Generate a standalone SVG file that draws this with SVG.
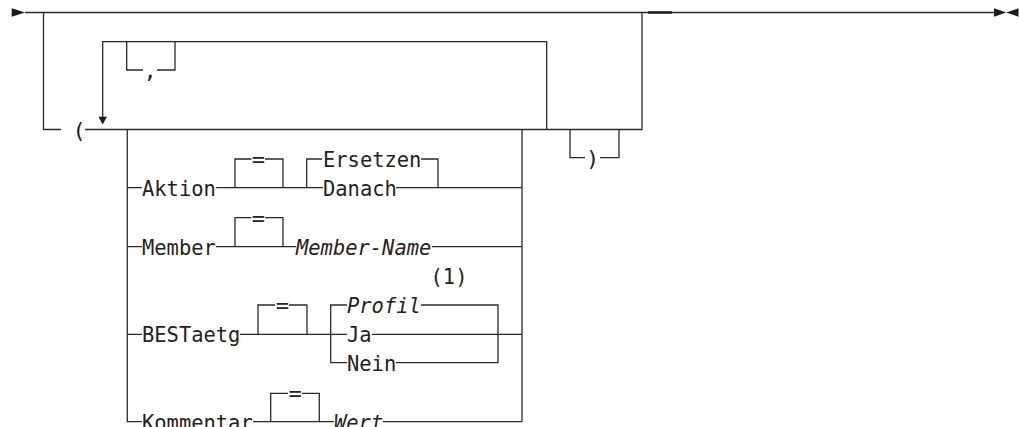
<svg xmlns="http://www.w3.org/2000/svg" width="1019" height="427" viewBox="0 0 1019 427">
<style>
.ln{fill:none;stroke:#2a2a2a;stroke-width:1.3;stroke-linecap:butt;stroke-linejoin:miter}
.ar{fill:#1a1a1a;stroke:none}
.t{font-family:"DejaVu Sans Mono","Liberation Mono",monospace;font-size:22px;fill:#222}
.i{font-style:italic}
.m{text-anchor:middle}
</style>
<rect width="1019" height="427" fill="#fff"/>
<g id="connectors">
<!-- start arrow & main line -->
<polygon class="ar" points="11.7,8.3 25,12.5 11.7,16.7"/>
<path class="ln" d="M25,12.5H994"/>
<path d="M648,12.5H672" stroke="#1a1a1a" stroke-width="2.4"/>
<polygon class="ar" points="994,8.2 1006.3,12.5 994,16.8"/>
<polygon class="ar" points="1018.5,8.2 1006.3,12.5 1018.5,16.8"/>
<!-- optional group bypass -->
<path class="ln" d="M43.5,12.5V129.5H61"/>
<path class="ln" d="M85,129.5H642V12.5"/>
<!-- repeat loop -->
<path class="ln" d="M102.7,117V41.7H546.7V129.5"/>
<polygon class="ar" points="98.5,116.7 106.9,116.7 102.7,124.5"/>
<path class="ln" d="M126.7,41.7V70H143M157,70H175V41.7"/>
<!-- close paren loop -->
<path class="ln" d="M570,129.5V157.7H585M600,157.7H619V129.5"/>
<!-- choice group -->
<path class="ln" d="M127.3,129.5V421.7H142"/>
<path class="ln" d="M522,129.5V421.7"/>
<!-- Aktion row -->
<path class="ln" d="M127.3,187.7H142M216,187.7H323M396,187.7H522"/>
<path class="ln" d="M235,187.7V159H251.5M265,159H283V187.7"/>
<path class="ln" d="M306.7,187.7V159H322M421,159H438V187.7"/>
<!-- Member row -->
<path class="ln" d="M127.3,246.7H142M216,246.7H296M432,246.7H522"/>
<path class="ln" d="M235,246.7V217.7H251.5M265,217.7H283V246.7"/>
<!-- BESTaetg row -->
<path class="ln" d="M127.3,334.3H142M240,334.3H347M372,334.3H522"/>
<path class="ln" d="M258,334.3V305H275M289,305H307V334.3"/>
<path class="ln" d="M347,305H330.7V362.7H347M396,362.7H498V305H421"/>
<!-- Kommentar row -->
<path class="ln" d="M253,421.7H334M383,421.7H522"/>
<path class="ln" d="M270.7,421.7V393.3H288M302,393.3H319.3V421.7"/>
</g>
<g id="node-open-paren"><text class="t m" x="79" y="137.5">(</text></g>
<g id="node-comma"><text class="t m" x="150" y="78">,</text></g>
<g id="node-close-paren"><text class="t m" x="592.5" y="165.7">)</text></g>
<g id="node-aktion">
<text class="t" x="142" y="195.7" textLength="73.8" lengthAdjust="spacingAndGlyphs">Aktion</text>
<text class="t m" x="258.3" y="167">=</text>
<text class="t" x="323" y="167" textLength="98.4" lengthAdjust="spacingAndGlyphs">Ersetzen</text>
<text class="t" x="323" y="195.7" textLength="73.8" lengthAdjust="spacingAndGlyphs">Danach</text>
</g>
<g id="node-member">
<text class="t" x="142" y="254.7" textLength="73.8" lengthAdjust="spacingAndGlyphs">Member</text>
<text class="t m" x="258.3" y="225.7">=</text>
<text class="t i" x="296" y="254.7" textLength="135.3" lengthAdjust="spacingAndGlyphs">Member-Name</text>
</g>
<g id="node-bestaetg">
<text class="t" x="142" y="342.3" textLength="98.4" lengthAdjust="spacingAndGlyphs">BESTaetg</text>
<text class="t m" x="282.3" y="313">=</text>
<text class="t" x="449" y="284" text-anchor="middle" textLength="36.9" lengthAdjust="spacingAndGlyphs">(1)</text>
<text class="t i" x="347" y="313" textLength="73.8" lengthAdjust="spacingAndGlyphs">Profil</text>
<text class="t" x="347" y="342.3" textLength="24.6" lengthAdjust="spacingAndGlyphs">Ja</text>
<text class="t" x="347" y="370.7" textLength="49.2" lengthAdjust="spacingAndGlyphs">Nein</text>
</g>
<g id="node-kommentar">
<text class="t" x="142" y="429.7" textLength="110.7" lengthAdjust="spacingAndGlyphs">Kommentar</text>
<text class="t m" x="295" y="401.3">=</text>
<text class="t i" x="334" y="429.7" textLength="49.2" lengthAdjust="spacingAndGlyphs">Wert</text>
</g>
</svg>
